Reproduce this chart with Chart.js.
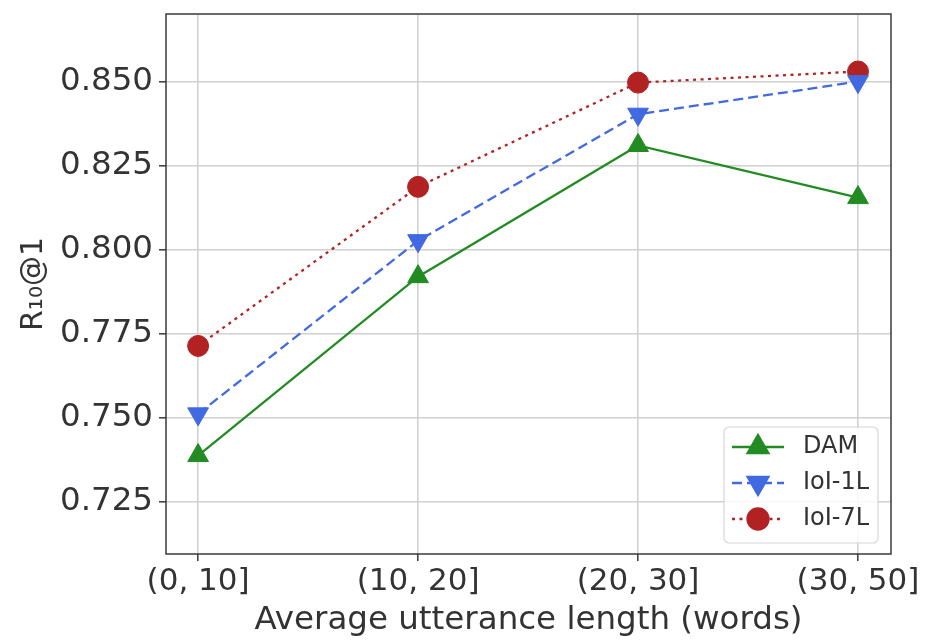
<!DOCTYPE html>
<html>
<head>
<meta charset="utf-8">
<script src="https://cdn.jsdelivr.net/npm/chart.js@4.4.1/dist/chart.umd.min.js"></script>
<style>
  html, body { margin: 0; padding: 0; background: #fff; }
  #wrap { width: 928px; height: 640px; }
</style>
</head>
<body>
<div id="wrap"><canvas id="chart" width="928" height="640"></canvas></div>
<script>
// Data
const categories = ['(0, 10]', '(10, 20]', '(20, 30]', '(30, 50]'];
const damValues = [0.7388, 0.7920, 0.8310, 0.8155];
const ioi1Values = [0.7512, 0.8027, 0.8403, 0.8500];
const ioi7Values = [0.7714, 0.8187, 0.8497, 0.8530];
const yTicks = [0.725, 0.750, 0.775, 0.800, 0.825, 0.850];

const FONT = 'DejaVu Sans';

function toPoints(values) {
    return values.map((v, i) => ({ x: i, y: v }));
}

// frame around the plot area (all four spines)
const framePlugin = {
    id: 'frame',
    afterDatasetsDraw(chart) {
        const a = chart.chartArea;
        const ctx = chart.ctx;
        ctx.save();
        ctx.strokeStyle = '#3a3a3a';
        ctx.lineWidth = 1.5;
        ctx.strokeRect(a.left, a.top, a.right - a.left, a.bottom - a.top);
        ctx.restore();
    }
};

// legend inside the lower right corner, like matplotlib
const insideLegend = {
    id: 'insideLegend',
    afterDraw(chart) {
        const a = chart.chartArea;
        const ctx = chart.ctx;
        const w = 154, h = 116;
        const x0 = a.right - 13 - w, y0 = a.bottom - 11 - h;
        ctx.save();
        ctx.beginPath();
        ctx.roundRect(x0, y0, w, h, 5);
        ctx.fillStyle = 'rgba(255,255,255,0.85)';
        ctx.fill();
        ctx.strokeStyle = '#d6d6d6';
        ctx.lineWidth = 1.2;
        ctx.stroke();
        chart.data.datasets.forEach((ds, i) => {
            const cy = y0 + 20 + i * 36;
            const lx = x0 + 8, rx = x0 + 60;
            ctx.strokeStyle = ds.borderColor;
            ctx.lineWidth = ds.borderWidth;
            ctx.setLineDash(ds.borderDash || []);
            ctx.beginPath();
            ctx.moveTo(lx, cy);
            ctx.lineTo(rx, cy);
            ctx.stroke();
            ctx.setLineDash([]);
            ctx.fillStyle = ds.pointBackgroundColor;
            ctx.strokeStyle = ds.pointBackgroundColor;
            Chart.helpers.drawPoint(ctx, {
                pointStyle: ds.pointStyle,
                rotation: ds.pointRotation || 0,
                radius: ds.pointRadius,
                borderWidth: 1
            }, (lx + rx) / 2, cy);
            ctx.fillStyle = '#333';
            ctx.font = '24px "' + FONT + '"';
            ctx.textBaseline = 'middle';
            ctx.textAlign = 'left';
            ctx.fillText(ds.label, x0 + 79, cy);
        });
        ctx.restore();
    }
};

new Chart(document.getElementById('chart').getContext('2d'), {
    type: 'line',
    data: {
        datasets: [
            {
                label: 'DAM',
                data: toPoints(damValues),
                borderColor: '#228B22',
                borderWidth: 2.3,
                pointStyle: 'triangle',
                pointRadius: 12,
                pointBackgroundColor: '#228B22',
                pointBorderColor: '#228B22',
                pointBorderWidth: 1
            },
            {
                label: 'IoI-1L',
                data: toPoints(ioi1Values),
                borderColor: '#4169E1',
                borderWidth: 2.3,
                borderDash: [10, 5],
                pointStyle: 'triangle',
                pointRotation: 180,
                pointRadius: 12,
                pointBackgroundColor: '#4169E1',
                pointBorderColor: '#4169E1',
                pointBorderWidth: 1
            },
            {
                label: 'IoI-7L',
                data: toPoints(ioi7Values),
                borderColor: '#B22222',
                borderWidth: 2.3,
                borderDash: [3, 4.5],
                pointStyle: 'circle',
                pointRadius: 10.5,
                pointBackgroundColor: '#B22222',
                pointBorderColor: '#B22222',
                pointBorderWidth: 1
            }
        ]
    },
    options: {
        responsive: false,
        animation: false,
        layout: { padding: { top: 14, right: 37, left: 0, bottom: 0 } },
        plugins: {
            legend: { display: false },
            tooltip: { enabled: false }
        },
        scales: {
            x: {
                type: 'linear',
                min: -0.146,
                max: 3.15,
                afterBuildTicks(scale) {
                    scale.ticks = categories.map((c, i) => ({ value: i }));
                },
                afterFit(scale) {
                    scale.height = 86;
                    scale.paddingLeft = 0;
                    scale.paddingRight = 0;
                },
                ticks: {
                    callback: (v) => categories[v],
                    color: '#333',
                    font: { family: FONT, size: 31 },
                    padding: 2,
                    maxRotation: 0,
                    autoSkip: false
                },
                grid: {
                    color: '#d0d0d0',
                    lineWidth: 1.6,
                    tickColor: '#3a3a3a',
                    tickLength: 7,
                    tickWidth: 1.5
                },
                border: { display: false },
                title: {
                    display: true,
                    text: 'Average utterance length (words)',
                    color: '#333',
                    font: { family: FONT, size: 32.5 },
                    padding: { top: 0, bottom: 0 }
                }
            },
            y: {
                min: 0.70953,
                max: 0.8701,
                afterBuildTicks(scale) {
                    scale.ticks = yTicks.map(v => ({ value: v }));
                },
                afterFit(scale) {
                    scale.width = 166;
                    scale.paddingTop = 0;
                    scale.paddingBottom = 0;
                },
                ticks: {
                    callback: (v) => v.toFixed(3),
                    color: '#333',
                    font: { family: FONT, size: 32.5 },
                    padding: 6
                },
                grid: {
                    color: '#d0d0d0',
                    lineWidth: 1.6,
                    tickColor: '#3a3a3a',
                    tickLength: 7,
                    tickWidth: 1.5
                },
                border: { display: false },
                title: {
                    display: true,
                    text: 'R\u2081\u2080@1',
                    color: '#333',
                    font: { family: FONT, size: 30 },
                    padding: { top: 16, bottom: 0 }
                }
            }
        }
    },
    plugins: [framePlugin, insideLegend]
});
</script>
</body>
</html>
